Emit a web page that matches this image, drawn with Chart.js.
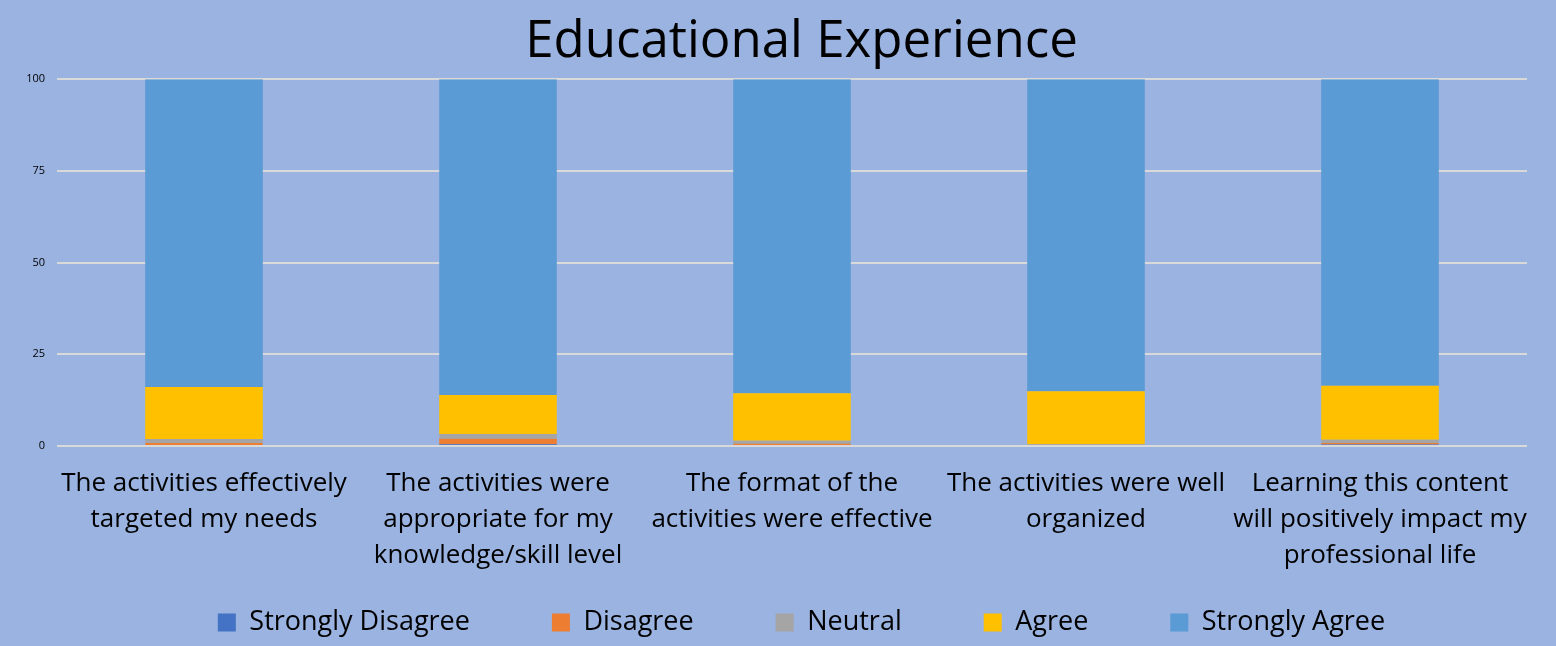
<!DOCTYPE html>
<html>
<head>
<meta charset="utf-8">
<script src="https://cdn.jsdelivr.net/npm/chart.js@4"></script>
<style>
  html, body { margin: 0; padding: 0; background: #9AB3E0; }
  #wrap { width: 1556px; height: 646px; position: relative; }
</style>
</head>
<body>
<div id="wrap"><canvas id="eduChart"></canvas></div>
<script>
const categories = [
  ['The activities effectively', 'targeted my needs'],
  ['The activities were', 'appropriate for my', 'knowledge/skill level'],
  ['The format of the', 'activities were effective'],
  ['The activities were well', 'organized'],
  ['Learning this content', 'will positively impact my', 'professional life']
];
const yTicks = [0, 25, 50, 75, 100];

const stronglyDisagree = [0, 0.5, 0, 0, 0.4];
const disagree = [0.8, 1.5, 0.6, 0, 0.4];
const neutral = [1.1, 1.3, 0.8, 0.5, 0.9];
const agree = [14.2, 10.6, 13.0, 14.4, 14.7];
const stronglyAgree = [83.9, 86.1, 85.6, 85.1, 83.6];

const font = "'Open Sans', 'Liberation Sans', sans-serif";

// title and legend sit a bit right of the canvas centre in the original
const shiftTitleLegend = {
  id: 'shiftTitleLegend',
  afterLayout(chart) {
    [chart.titleBlock, chart.legend].forEach(b => {
      if (b) { b.left += 38; b.right += 38; }
    });
  }
};

const ctx = document.getElementById('eduChart').getContext('2d');
new Chart(ctx, {
  type: 'bar',
  data: {
    labels: categories,
    datasets: [
      { label: 'Strongly Disagree', data: stronglyDisagree, backgroundColor: '#4472C4' },
      { label: 'Disagree', data: disagree, backgroundColor: '#ED7D31' },
      { label: 'Neutral', data: neutral, backgroundColor: '#A5A5A5' },
      { label: 'Agree', data: agree, backgroundColor: '#FFC000' },
      { label: 'Strongly Agree', data: stronglyAgree, backgroundColor: '#5B9BD5' }
    ]
  },
  options: {
    responsive: true,
    maintainAspectRatio: false,
    animation: false,
    layout: { padding: { left: 0, right: 29, top: 12, bottom: 0 } },
    datasets: { bar: { categoryPercentage: 1, barPercentage: 0.4 } },
    plugins: {
      title: {
        display: true,
        text: 'Educational Experience',
        color: '#000',
        font: { family: font, size: 51, weight: 'normal' },
        padding: { top: 0, bottom: 6 }
      },
      legend: {
        position: 'bottom',
        labels: {
          color: '#000',
          font: { family: font, size: 27 },
          boxWidth: 18,
          boxHeight: 18,
          padding: 82
        }
      },
      tooltip: { enabled: false }
    },
    scales: {
      x: {
        stacked: true,
        grid: { display: false },
        border: { display: false },
        afterFit: axis => {
          axis.height = 81;
          // labels run down into the legend's empty top part, so no clipping
          axis._computeLabelArea = () => undefined;
        },
        ticks: {
          color: '#000',
          font: { family: font, size: 26, lineHeight: 1.385 },
          maxRotation: 0,
          autoSkip: false,
          padding: 12
        }
      },
      y: {
        stacked: true,
        min: 0,
        max: 100,
        afterBuildTicks: axis => { axis.ticks = yTicks.map(v => ({ value: v })); },
        afterFit: axis => { axis.width = 57; },
        grid: { color: '#D9D9D9', lineWidth: 2, drawTicks: false },
        border: { display: false },
        ticks: {
          color: '#000',
          font: { family: font, size: 11 },
          padding: 12
        }
      }
    }
  },
  plugins: [shiftTitleLegend]
});
</script>
</body>
</html>
